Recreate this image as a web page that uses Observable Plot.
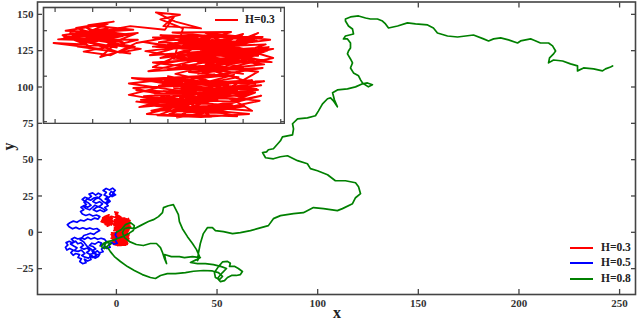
<!DOCTYPE html>
<html><head><meta charset="utf-8">
<script src="https://cdn.jsdelivr.net/npm/d3@7"></script>
<script src="https://cdn.jsdelivr.net/npm/@observablehq/plot@0.6"></script>
<style>
body{margin:0;background:#fff;}
#wrap{position:relative;width:640px;height:323px;font-family:"Liberation Serif","Times New Roman",serif;color:#222;}
#wrap svg{display:block;}
#inset{position:absolute;left:41.7px;top:6.3px;}
.lbl{position:absolute;font-weight:bold;white-space:nowrap;line-height:1;}
.legline{position:absolute;height:2.4px;}
</style></head><body><div id="wrap"></div>
<script>
const xTicks = [0, 50, 100, 150, 200, 250];
const yTicks = [-25, 0, 25, 50, 75, 100, 125, 150];
const insetXTicks = [-7.5, -5, -2.5, 0, 2.5, 5, 7.5];
const insetYTicks = [-10, 0, 10];
const seriesNames = ["H=0.3", "H=0.5", "H=0.8"];
const seriesColors = ["#ff0000", "#0000ff", "#008000"];
const axisLabels = ["x", "y"];

// H=0.3 path (x, y)
const pathH03 = [[0,0],[3.2,-2.1],[-0.8,-1.2],[4.1,-3.6],[0.4,-2.6],[5.2,-4.1],[0.9,-5.2],[4.6,-3.1],[-1.6,-4.4],[3.0,-6.1],[-2.1,-5.6],[2.1,-7.2],[-1.2,-6.4],[3.6,-8.1],[0.1,-7.6],[5.1,-6.6],[1.4,-8.6],[6.1,-5.4],[2.0,-4.1],[6.2,-2.0],[1.1,-3.1],[5.6,-0.9],[-0.6,-2.1],[3.1,0.4],[-2.6,-1.6],[1.6,-3.6],[-2.1,-3.1],[2.6,-5.1],[-1.1,-7.6],[4.1,-7.1],[0.6,-9.1],[2.1,-6.1],[-2.3,-2.6],[4.0,-1.6],[0.1,-4.1],[5.8,-3.6],[2.6,-7.6],[-0.6,-5.1],[4.6,-5.6],[1.1,-1.6],[6.4,-1.1],[3.1,-3.1],[-1.5,-0.6],[2.6,0.1],[-2.6,-4.1],[1.1,-6.1],[3.6,-4.6],[0.1,-8.3],[4.6,-8.8],[1.6,-6.6],[5.6,-7.6],[2.8,-2.3],
[-1.9,-6.8],[3.3,-5.3],[-0.3,-3.3],[4.9,-2.6],[1.8,-5.8],[-1.4,-8.3],[2.9,-8.9],[0.8,-4.6],[5.3,-5.1],[2.3,-1.1],[-2.4,-0.4],[1.3,-2.4],[4.4,0.3],[0.6,-0.9],[5.9,-2.8],[3.8,-6.3],[6.2,-4.3],[1.7,-7.3],[-0.9,-3.8],[3.4,-3.9],
[6.0,1.0],[1.0,2.5],[5.0,0.5],[-1.0,3.0],[4.0,4.0],[0.0,1.5],[6.5,3.5],[2.0,5.0],[7.0,6.0],[3.0,3.0],[-1.5,5.5],[2.5,7.0],[-0.5,4.0],[4.5,6.0],[1.0,8.0],[5.5,7.5],[2.0,4.5],[6.0,4.5],[0.0,7.0],[3.5,9.0],[-1.0,8.5],[4.0,6.8],[6.8,8.0],[2.5,9.5],[5.0,5.5],[1.0,6.0],[-1.6,7.5],[3.0,5.5],[6.0,9.5],[1.5,2.0],[4.5,3.0],[0.5,5.0],[5.0,2.0],[2.0,0.5],[7.0,4.0],[3.5,7.5],[-0.5,9.0],[4.5,8.5],[1.0,3.5],[5.5,6.0],[2.5,2.5],[6.5,7.0],[0.0,6.0],[3.0,8.0],[6.0,2.5],[1.5,7.5],[4.0,1.0],[-1.0,2.0],[2.0,6.5],[5.0,9.3],
[3.8,4.8],[0.7,8.6],[5.7,3.3],[2.3,8.3],[-0.8,6.4],[4.9,7.1],[1.6,4.1],[6.6,5.6],[3.2,1.4],[-0.4,2.7],[4.3,5.3],[1.3,9.2],[5.4,8.1],[2.7,5.8],[6.9,3.1],[0.4,3.8],
[1.0,10.5],[-0.5,12.5],[0.8,13.5],[-0.8,14.0],[0.5,12.0],[2.2,10.5],[-0.3,11.0],[0.4,13.0],[-0.2,10.2],
[-2.5,11.0],[-5.0,9.5],[-3.0,7.5],[-6.5,8.5],[-4.0,10.5],[-7.0,9.0],[-5.5,7.0],[-7.6,7.3],[-4.5,6.0],[-2.0,8.0],[-6.0,8.0],[-3.5,9.5],[-6.8,10.0],[-4.0,11.5],[-5.8,9.0],[-3.0,10.5],[-5.0,8.0],[-2.2,6.5],[-4.5,4.2],[-3.5,7.0],[-6.0,6.5],[-2.5,5.0],[-5.0,6.0],[-6.5,9.5],[-3.8,8.5],[-5.5,10.8],[-4.5,8.8],[-2.0,9.5],[-4.0,7.0],[-1.8,6.0],[-3.2,5.2],[-5.2,7.4],[-3.0,8.8],[-6.2,8.2],[-4.8,10.1],[-2.6,9.1],[-5.9,7.7],[-3.4,6.3],[-6.9,8.6],[-4.2,9.3],
[-7.3,8.1],[-3.9,7.8],[-6.4,9.3],[-2.3,10.2],[-5.3,11.2],[-3.6,12.0],[-6.1,10.6],[-2.9,7.2],[-5.6,5.4],[-3.8,4.6],[-2.1,7.3],
[0.0,8.5],[3.0,6.0],[-1.0,6.5],[5.0,8.5],[2.0,3.0],[6.0,5.0],[0.5,0.5],[4.0,-2.0],[1.5,-5.0],[5.5,-3.0],[-0.5,-6.0],[3.5,-7.5],[0.8,-3.2],[4.8,-4.4],[2.2,-0.3],[6.3,1.8],[1.9,1.1],[5.2,4.2],
[1.2,6.8],[5.9,7.8],[0.3,9.6],[4.2,9.7],[-1.2,4.6],[6.7,6.4],[2.4,1.8],[5.8,-1.7],[-0.2,-1.0],[3.9,-3.3],[-1.8,-5.2],[4.3,-6.4],[0.4,-6.8],[5.4,-8.3],[2.2,-9.0],[-0.7,-8.6],[3.0,-4.4],[6.0,-3.0],[0.9,-2.5],[4.7,-0.2],[1.4,0.9],[6.4,2.6],[2.9,4.2],[-1.3,1.1],[3.7,2.1],[0.2,4.4],[5.6,5.0],[2.0,8.8],[6.3,8.6],[3.3,6.6],[-0.6,7.5],[2.8,9.1],[4.6,4.5],[1.8,5.3]];

// H=0.5 path (x, y)
const pathH05 = [[0,0],[-0.6,-1.8],[0.2,-3.6],[-0.5,-5.8],[0.4,-7.5],[-1.2,-8.2],[-2.4,-7],[-3.8,-8.4],[-3.1,-10.3],[-4.7,-11.2],[-6.2,-10],[-7.4,-11.6],[-6.6,-13.4],[-8.3,-14.1],[-9.6,-12.7],[-10.8,-14.3],[-10.1,-16.2],[-11.7,-17.4],[-13.2,-16.1],[-12.6,-18.7],[-14.3,-19.8],[-15.9,-18.5],[-15.1,-20.9],[-16.8,-21.6],[-18.2,-20.1],[-17.4,-18.2],[-19.1,-17.3],[-18.3,-15.4],[-20.2,-14.6],[-21.5,-15.8],[-22.6,-14],[-21.4,-12.3],[-23.2,-11.1],[-24.6,-12.2],[-25.3,-10.4],[-24.1,-8.7],[-25.0,-7.1],[-23.4,-6.2],[-21.8,-7.4],[-20.3,-6.1],[-19.2,-7.9],[-17.6,-7.2],[-16.4,-8.9],[-17.8,-10.4],[-16.1,-11.6],[-14.5,-10.8],[-13.2,-12.4],[-14.8,-13.9],[-13.1,-15.2],[-11.4,-14.6],[-12.1,-12.7],[-10.3,-11.4],[-11.6,-9.8],[-13.4,-9.1],[-12.2,-7.5],[-10.6,-8.1],[-9.0,-6.6],[-7.4,-7.4],[-8.1,-9.3],[-6.4,-8.2],[-4.9,-6.5],[-5.8,-4.9],[-7.6,-4.1],[-9.3,-4.8],[-10.9,-3.7],[-12.7,-4.6],[-14.2,-3.4],[-15.8,-4.8],[-17.5,-3.9],
[-19.2,-4.6],[-20.8,-3.5],[-22.4,-4.7],[-21.1,-6.3],[-22.8,-8.0],[-21.2,-9.4],[-19.6,-10.7],[-20.9,-12.6],[-19.0,-13.1],[-17.4,-12.2],[-15.7,-14.6],[-17.2,-15.9],[-15.6,-17.1],[-13.9,-17.8],[-12.2,-16.0],[-10.6,-17.8],[-9.0,-16.7],[-8.2,-14.8],[-9.7,-15.6],[-11.3,-13.0],[-12.9,-11.2],[-14.6,-9.6],[-16.3,-6.5],[-18.0,-5.2],[-16.9,-3.5],
[-16.2,-2.2],[-14.6,-1.5],[-12.9,-0.6],[-11.2,-1.4],[-9.8,0.1],[-8.3,1.3],[-9.7,2.6],
[-11.5,2.1],[-13.2,3.0],[-14.9,2.2],[-16.7,3.1],[-18.4,2.3],[-20.1,3.4],[-21.8,2.4],[-23.3,3.6],[-24.4,5.2],[-23.1,6.6],[-21.4,7.7],[-19.6,6.9],[-17.9,8.4],[-16.1,7.8],[-14.3,9.2],[-12.6,8.5],[-10.8,9.8],[-9.1,9.1],[-8.2,10.8],[-9.9,11.9],[-11.7,11.2],[-13.4,12.4],[-15.2,11.6],[-16.9,12.6],
[-17.8,14.3],[-16.2,15.6],[-17.6,17.2],[-16.0,18.4],[-14.3,17.3],[-12.6,18.6],[-13.8,20.1],[-15.5,21.3],[-17.0,22.6],[-15.6,24.1],[-13.9,23.2],[-12.4,24.8],[-13.6,26.3],[-11.8,27.1],[-10.3,25.6],[-9.0,26.9],[-7.4,25.8],[-8.6,24.0],[-10.4,22.9],[-11.7,21.2],[-10.1,20.0],[-8.4,21.1],[-6.9,19.6],[-8.2,18.0],[-10.0,17.1],[-11.5,15.5],[-9.8,14.3],[-8.1,15.4],[-6.3,14.2],[-4.7,15.5],[-5.8,17.1],[-4.1,18.3],[-5.4,20.2],[-3.9,21.8],[-5.6,22.9],[-4.3,24.5],[-6.1,25.7],[-5.0,27.5],[-6.6,28.8],[-5.1,30.2],[-3.4,29.1],[-1.9,30.4],[-0.6,28.8],[-1.8,27.2],[-0.4,25.8],[-2.1,24.6],[-3.4,26.3],[-2.6,28.2],[-1.2,26.9],
[-2.8,25.1],[-4.4,23.3],[-3.1,21.4],[-4.8,19.6],[-6.6,21.0],[-7.9,22.8],[-9.5,24.2],[-11.2,23.6],[-12.8,22.1],[-14.6,22.9],[-16.1,20.8],[-14.9,19.1],[-16.7,18.0],[-15.1,16.4],[-13.3,15.5],[-12.0,17.0],[-10.6,18.7],[-9.1,17.6],[-7.5,16.9],[-6.0,15.6]];

// H=0.8 path (x, y)
const pathH08 = [[0,0],[2.5,1.9],[4.5,5.3],[7.0,6.7],[8.9,4.6],[8.4,1.2],[6.0,-0.9],[3.0,-3.0],[0.5,-4.3],[-2.0,-5.7],[-4.5,-6.4],[-6.5,-7.7],[-7.5,-9.8],[-6.0,-11.2],[-4.0,-9.1],[-2.5,-7.7],[-5.0,-7.0],[-6.0,-9.1],[-4.0,-11.2],
[-3.0,-13.3],[-1.0,-16.7],[2.0,-20.1],[5.5,-23.6],[8.9,-26.3],[12.9,-29.1],[16.9,-31.1],[19.4,-31.8],[21.9,-29.7],[25.3,-28.4],[29.3,-28.4],[34.3,-27.7],[38.3,-26.8],[43.2,-26.3],[47.7,-26.6],[50.7,-27.7],[52.7,-30.4],
[51.2,-32.5],[49.2,-31.1],[48.7,-27.7],[50.7,-23.6],[52.7,-20.4],[55.2,-20.0],[56.6,-21.3],[56.2,-23.4],[58.6,-23.4],[60.6,-24.9],[62.6,-27.0],[61.6,-29.1],[59.6,-29.7],[57.2,-29.7],[55.2,-31.1],[53.7,-33.2],[51.7,-33.9],[50.2,-31.8],[52.7,-27.7],[54.7,-24.9],[52.2,-23.6],
[48.2,-22.2],[44.2,-21.5],[40.3,-21.5],[36.8,-20.8],[39.8,-18.8],[41.7,-17.4],[37.8,-16.7],[33.8,-17.4],[31.3,-16.7],[27.3,-16.7],[23.9,-15.3],[24.4,-18.8],[24.9,-21.5],[23.9,-18.1],[22.9,-13.9],[21.9,-10.5],[19.9,-7.7],[16.9,-7.7],[13.4,-9.1],[9.9,-8.4],[6.5,-6.4],[4.0,-3.6],[3.0,-0.2],[4.0,2.5],
[6.0,3.2],[8.9,2.5],[11.9,4.6],[15.9,7.4],[18.4,8.7],[20.9,10.8],[22.9,13.5],[23.4,17.0],[25.8,18.3],[28.3,19.0],[29.3,16.3],[30.8,12.2],[31.3,7.4],[32.8,2.5],[35.3,-3.0],[37.8,-7.7],[39.8,-11.9],[41.3,-16.7],[40.3,-19.4],
[40.8,-13.9],[41.7,-7.7],[43.2,-0.9],[45.2,3.2],[47.7,3.2],[49.2,1.2],[53.2,0.5],[57.7,-0.9],[61.6,-0.2],[66.6,1.2],[70.1,2.5],[75.5,4.6],[78.0,9.4],[81.5,11.5],[88.0,12.8],[92.9,13.5],[97.9,17.0],[102.9,16.3],[109.8,14.9],[112.3,16.3],[117.3,19.7],[118.8,23.8],[121.3,26.6],[120.3,31.4],[118.8,34.1],[113.8,35.5],[108.8,35.5],[104.9,39.6],[99.9,42.4],[96.4,43.8],[94.9,47.2],[90.0,49.3],[85.0,52.7],[81.5,52.0],[78.0,50.6],[74.1,51.3],[72.6,54.8],[74.6,55.4],
[75.5,56.8],[78.0,57.5],[81.5,63.0],[82.5,65.7],[87.5,67.1],[88.0,71.2],[87.5,74.7],[90.0,78.1],[94.9,78.8],[98.9,80.2],[100.4,83.6],[102.4,88.4],[104.9,91.9],[106.4,92.5],[107.8,90.5],[109.8,86.4],[108.3,91.2],[107.4,96.0],[109.8,98.0],[114.8,98.7],[118.8,100.1],[122.3,102.2],[124.7,102.8],[127.2,101.5],[125.2,100.1],[122.3,102.8],[121.3,104.9],[120.3,107.7],[117.8,109.7],[116.3,113.1],[117.3,116.6],[116.3,119.3],[114.8,122.8],[115.3,124.8],[116.3,126.9],[116.3,130.3],[114.8,133.1],[112.8,133.1],[113.8,135.1],[117.8,136.5],[117.3,139.9],[115.3,142.0],[113.8,145.4],[113.8,146.8],[116.3,148.2],[120.3,148.9],[123.8,147.5],[126.2,146.8],[129.7,146.8],[132.2,145.4],[133.7,143.4],[135.2,140.6],[139.7,142.0],[144.6,144.1],[148.6,143.4],[154.6,142.7],[157.5,140.6],[159.5,137.2],[164.5,135.1],[169.5,134.4],[173.5,135.1],[177.4,135.8],[182.4,133.1],[184.9,131.7],[187.4,133.1],[190.9,133.8],[194.8,132.4],[199.3,130.3],[200.8,131.7],[205.8,133.1],[207.2,132.4],[210.7,130.3],[214.7,130.3],[216.7,128.3],[218.2,124.8],[217.2,122.8],[215.2,120.0],[214.7,116.6],[217.2,118.6],[221.7,117.9],[225.6,115.9],[229.1,114.5],[229.1,111.1],[232.1,113.1],[237.1,112.5],[241.5,111.1],[243.0,112.5],[245.5,113.8],[246.5,114.5]];

const paths = [pathH03, pathH05, pathH08];
const frameColor = "#444";
const font = "'Liberation Serif', 'Times New Roman', serif";

const mainMarks = [];
paths.forEach((p, i) => mainMarks.push(Plot.line(p, {x: d => d[0], y: d => d[1], stroke: seriesColors[i], strokeWidth: 1.7, strokeLinejoin: "round"})));
mainMarks.push(
  Plot.frame({stroke: frameColor, strokeWidth: 1.6}),
  Plot.axisX(xTicks, {anchor: "bottom", tickSize: 0, tickPadding: 5, label: null, fill: "#333"}),
  Plot.axisX(xTicks, {anchor: "bottom", tickSize: -5, tickFormat: () => "", label: null, stroke: frameColor, strokeWidth: 1.3}),
  Plot.axisX(xTicks, {anchor: "top", tickSize: -5, tickFormat: () => "", label: null, stroke: frameColor, strokeWidth: 1.3}),
  Plot.axisY(yTicks, {anchor: "left", tickSize: 0, tickPadding: 4, label: null, fill: "#333"}),
  Plot.axisY(yTicks, {anchor: "left", tickSize: -5, tickFormat: () => "", label: null, stroke: frameColor, strokeWidth: 1.3}),
  Plot.axisY(yTicks, {anchor: "right", tickSize: -5, tickFormat: () => "", label: null, stroke: frameColor, strokeWidth: 1.3})
);

const main = Plot.plot({
  width: 640, height: 323,
  marginLeft: 37, marginRight: 5, marginTop: 1.5, marginBottom: 29,
  style: {fontFamily: font, fontWeight: "bold", fontSize: "11px", background: "#fff", color: "#333"},
  x: {domain: [-39.2, 257.9]},
  y: {domain: [-42.8, 158.5]},
  marks: mainMarks
});

const inset = Plot.plot({
  width: 243, height: 118,
  marginLeft: 1, marginRight: 1, marginTop: 1, marginBottom: 1,
  style: {fontFamily: font, background: "#fff"},
  x: {domain: [-8.27, 7.75]},
  y: {domain: [-10.4, 15.1]},
  marks: [
    Plot.line(pathH03, {x: d => d[0], y: d => d[1], stroke: seriesColors[0], strokeWidth: 1.9, strokeLinejoin: "round"}),
    Plot.axisX(insetXTicks, {anchor: "bottom", tickSize: -4, tickFormat: () => "", label: null, stroke: frameColor, strokeWidth: 1.2}),
    Plot.axisX(insetXTicks, {anchor: "top", tickSize: -4, tickFormat: () => "", label: null, stroke: frameColor, strokeWidth: 1.2}),
    Plot.axisY(insetYTicks, {anchor: "left", tickSize: -4, tickFormat: () => "", label: null, stroke: frameColor, strokeWidth: 1.2}),
    Plot.axisY(insetYTicks, {anchor: "right", tickSize: -4, tickFormat: () => "", label: null, stroke: frameColor, strokeWidth: 1.2}),
    Plot.frame({stroke: frameColor, strokeWidth: 1.6})
  ]
});
inset.id = "inset";

const wrap = document.getElementById("wrap");
wrap.appendChild(main);
wrap.appendChild(inset);

function addText(txt, left, top, size, extra) {
  const d = document.createElement("div");
  d.className = "lbl";
  d.textContent = txt;
  d.style.left = left + "px";
  d.style.top = top + "px";
  d.style.fontSize = size + "px";
  if (extra) Object.assign(d.style, extra);
  wrap.appendChild(d);
  return d;
}
function addLine(color, left, top, w) {
  const d = document.createElement("div");
  d.className = "legline";
  d.style.background = color;
  d.style.left = left + "px";
  d.style.top = top + "px";
  d.style.width = w + "px";
  wrap.appendChild(d);
}
// axis titles
addText(axisLabels[0], 333, 305, 16);
addText(axisLabels[1], 4, 141, 16, {transform: "rotate(-90deg)", transformOrigin: "50% 50%", lineHeight: "11px"});
// main legend
const legY = [247.7, 263.2, 278.7];
seriesNames.forEach((n, i) => {
  addLine(seriesColors[i], 570, legY[i] - 1.2, 23);
  addText(n, 601, legY[i] - 6, 11.5, {color: "#222"});
});
// inset legend
addLine(seriesColors[0], 215, 19, 23);
addText(seriesNames[0], 245, 14, 11.5, {color: "#222"});
</script></body></html>
